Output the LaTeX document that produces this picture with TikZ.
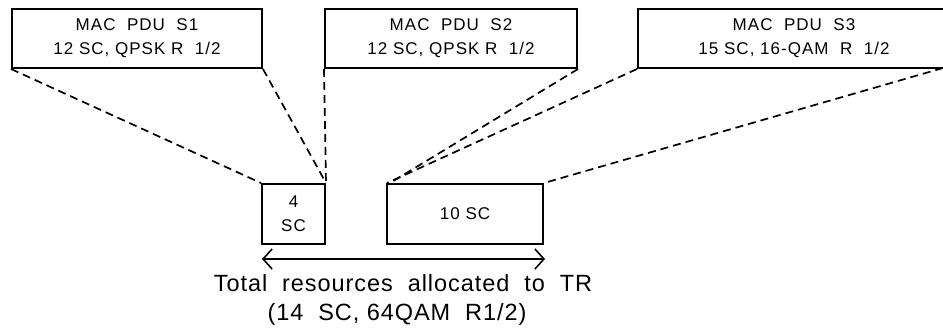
\documentclass[tikz,border=0pt]{standalone}
\usepackage{fontspec}
\setmainfont{Liberation Sans}
\newfontfamily\boxff[LetterSpace=6]{Liberation Sans}
\newfontfamily\lblff[LetterSpace=4]{Liberation Sans}
\usetikzlibrary{arrows.meta}
\begin{document}
\begin{tikzpicture}[x=1pt,y=-1pt,
  boxfont/.style={font=\boxff\fontsize{17}{24}\selectfont},
  box/.style={draw=black,line width=2pt,inner sep=0pt,align=center,boxfont},
  dline/.style={draw=black,line width=1.7pt,dash pattern=on 8pt off 5pt},
  lbl/.style={inner sep=0pt,anchor=base,font=\lblff\fontsize{23.5}{28}\selectfont}]
\useasboundingbox (0,0) rectangle (943,332);
\node[box,minimum width=250pt,minimum height=59pt] (s1) at (137,38.5) {MAC\ \ PDU\ \ S1\\12 SC, QPSK R\ \ 1/2};
\node[box,minimum width=252pt,minimum height=59pt] (s2) at (451,38.5) {MAC\ \ PDU\ \ S2\\12 SC, QPSK R\ \ 1/2};
\node[box,minimum width=312pt,minimum height=59pt] (s3) at (794,38.5) {MAC\ \ PDU\ \ S3\\15 SC,\ 16-QAM\ \ R\ \ 1/2};
\coordinate (s3br) at (943,68);
\node[box,minimum width=63pt,minimum height=60pt] (a) at (293.5,214) {4\\SC};
\node[box,minimum width=156pt,minimum height=60pt] (b) at (465,214) {10\ SC};
\coordinate (al) at (262,259);
\coordinate (ar) at (545,259);
\draw[line width=1.6pt,{Straight Barb[length=9pt,width=20pt]}-{Straight Barb[length=9pt,width=20pt]}] (al) -- (ar);
\node[lbl] (t1) at (403,291.5) {Total\ \ resources\ \ allocated\ \ to\ \ TR};
\node[lbl] (t2) at (397,320) {(14\ \ SC,\ 64QAM\ \ R1/2)};
\draw[dline] (s1.south west) -- (a.north west);
\draw[dline] (s1.south east) -- (a.north east);
\draw[dline] (s2.south west) -- (a.north east);
\draw[dline] (s2.south east) -- ([xshift=4pt]b.north west);
\draw[dline] (s3.south west) -- ([xshift=1pt]b.north west);
\draw[dline] (s3br) -- (b.north east);
\end{tikzpicture}
\end{document}
